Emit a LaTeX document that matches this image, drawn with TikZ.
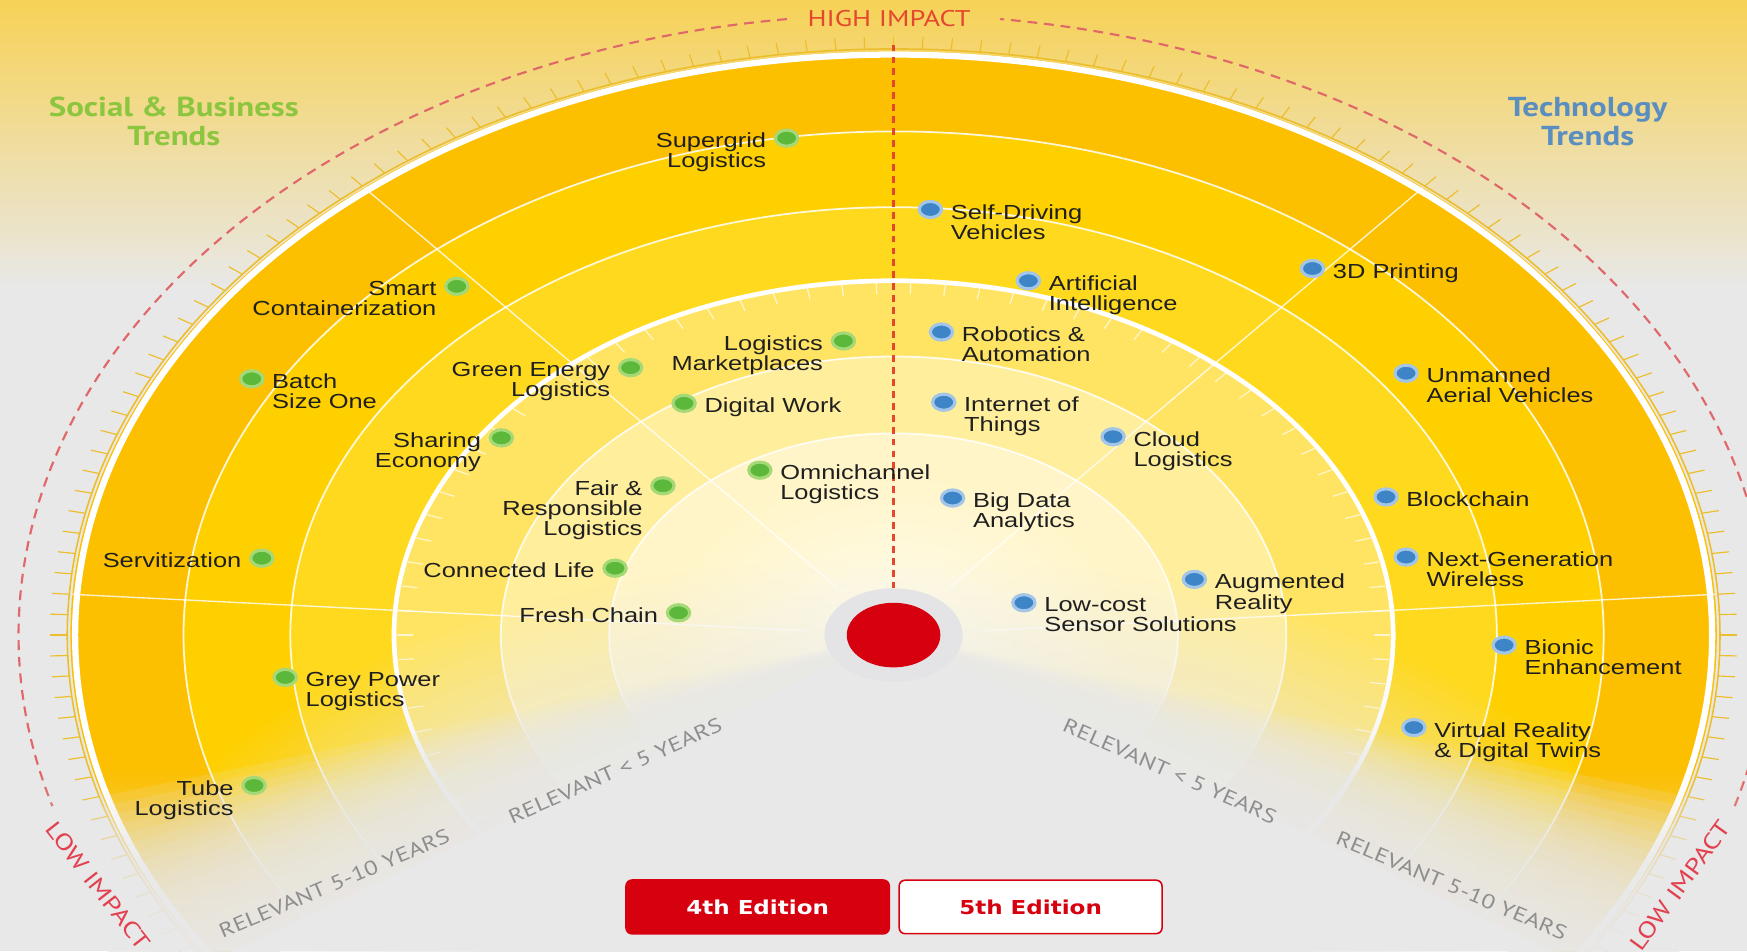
\documentclass[tikz,border=0pt]{standalone}
\usepackage{fontspec}
\setmainfont{Liberation Sans}[FakeStretch=1.25]
\newfontfamily\capfont{PT Sans}[FakeStretch=1.25]
\newfontfamily\headfont{PT Sans}[FakeStretch=1.2]
\newfontfamily\btnfont{DejaVu Sans}[FakeStretch=1.2]
\usetikzlibrary{shapes.geometric,fadings}

\definecolor{bggrey}{HTML}{E8E8E8}
\definecolor{topyel}{HTML}{F7D256}
\definecolor{ringA}{HTML}{FCC000}
\definecolor{ringB}{HTML}{FFD000}
\definecolor{ringC}{HTML}{FFD91E}
\definecolor{ringD}{HTML}{FFE464}
\definecolor{ringE}{HTML}{FFEE9C}
\definecolor{ringF}{HTML}{FFF5C8}
\definecolor{core}{HTML}{FFFCEE}
\definecolor{halo}{HTML}{E4E4E7}
\definecolor{dhlred}{HTML}{D7000F}
\definecolor{impred}{HTML}{E5472E}
\definecolor{lowred}{HTML}{E2404F}
\definecolor{arcred}{HTML}{E0686A}
\definecolor{sbgreen}{HTML}{8CC63F}
\definecolor{techblue}{HTML}{5B8EC0}
\definecolor{dotgreen}{HTML}{5CB83A}
\definecolor{dotgreenrim}{HTML}{A5D977}
\definecolor{dotblue}{HTML}{3E85C8}
\definecolor{dotbluerim}{HTML}{A3C6E8}
\definecolor{relgrey}{HTML}{8E8E8E}
\definecolor{tickyel}{HTML}{EDBE2C}

% grey wash over the lower part: opaque in the middle, gone at the rim
\pgfdeclareradialshading{lowshade}{\pgfpointorigin}{color(0bp)=(white); color(12bp)=(white); color(25bp)=(black); color(50bp)=(black)}
\pgfdeclarefading{lowfade}{\pgfuseshading{lowshade}}

\begin{document}
\begin{tikzpicture}[x=0.02cm, y=-0.02cm,
  gdot/.style={ellipse, fill=dotgreen, draw=dotgreenrim, line width=1.6pt,
    minimum width=0.4cm, minimum height=0.29cm, inner sep=0pt},
  bdot/.style={gdot, fill=dotblue, draw=dotbluerim},
  lbl/.style={inner sep=0pt, text=black!88, font=\fontsize{10.4pt}{10.3pt}\selectfont},
  lblleft/.style={lbl, anchor=north east, align=right},
  lblright/.style={lbl, anchor=north west, align=left},
  relv/.style={text=relgrey, font=\capfont\fontsize{10.3pt}{11pt}\selectfont},
  impact/.style={text=impred, font=\capfont\fontsize{11.6pt}{12pt}\selectfont},
  trendhead/.style={align=center, font=\headfont\bfseries\fontsize{14pt}{14.8pt}\selectfont},
  edition/.style={rounded corners=3pt, minimum width=4.72cm, minimum height=0.96cm,
    line width=1pt, draw=dhlred, font=\btnfont\bfseries\fontsize{9.8pt}{10pt}\selectfont}]

  \useasboundingbox (0,0) rectangle (1568,854);
  \fill[bggrey] (0,0) rectangle (1568,854);
  \shade[top color=topyel, bottom color=bggrey] (0,0) rectangle (1568,260);

  % the radar, drawn round the hub
  \begin{scope}[shift={(802,570)}, xscale=1.41, yscale=-1]
    \foreach \r/\c in {524/ringA, 452/ringB, 384/ringC, 318/ringD, 250/ringE, 181/ringF}
      \fill[\c] (0,0) -- (-34:\r) arc[start angle=-34, end angle=214, radius=\r] -- cycle;
    \begin{scope}
      \clip (0,0) -- (-34:181) arc[start angle=-34, end angle=214, radius=181] -- cycle;
      \shade[inner color=core, outer color=ringF] (0,0) circle[radius=150];
    \end{scope}
    \foreach \r in {452,384,250,181}
      \draw[white, line width=0.9pt, opacity=0.85] (-34:\r) arc[start angle=-34, end angle=214, radius=\r];
    \foreach \a in {4,50,130,176}
      \draw[white, line width=0.7pt, opacity=0.8] (\a:55) -- (\a:524);
    \draw[white, line width=3.2pt] (-34:521) arc[start angle=-34, end angle=214, radius=521];
    \draw[white, line width=2.4pt] (-34:318) arc[start angle=-34, end angle=214, radius=318];
    \foreach \a in {-32,-28,...,212}
      \draw[white, line width=0.6pt, opacity=0.7] (\a:316) -- (\a:306);
    \draw[tickyel, line width=0.8pt] (-34:526) arc[start angle=-34, end angle=214, radius=526];
    \foreach \a in {-34,-32,...,214}
      \draw[tickyel, line width=0.6pt] (\a:526) -- (\a:537);
    \draw[arcred, line width=1.1pt, dash pattern=on 5pt off 3.5pt]
      (-16:557) arc[start angle=-16, end angle=83, radius=557]
      (97:557) arc[start angle=97, end angle=196, radius=557];
    % lower ends fade into the background
    \foreach \a in {0,...,17} {
      \fill[bggrey, opacity=0.13] (0,0) -- (196+\a:575) arc[start angle=196+\a, end angle=216, radius=575] -- cycle;
      \fill[bggrey, opacity=0.13] (0,0) -- (-16-\a:575) arc[start angle=-16-\a, end angle=-36, radius=575] -- cycle;
    }
  \end{scope}
  \fill[bggrey, path fading=lowfade] (802,860) ellipse[x radius=700, y radius=360];
  \fill[bggrey, path fading=north, opacity=0.7] (0,690) rectangle (1568,854);

  \node[ellipse, fill=halo, minimum width=2.48cm, minimum height=1.68cm] (halo) at (802,570) {};
  \node[ellipse, fill=dhlred, minimum width=1.68cm, minimum height=1.16cm] (hub) at (802,570) {};
  \coordinate (axis) at (802,40);
  \draw[impred, line width=1.2pt, dash pattern=on 3.5pt off 2.6pt] (axis) -- (halo.north);

  \node[impact] (hi) at (798,17) {HIGH IMPACT};
  \node[impact, text=lowred, rotate=-52] (lowl) at (88,795) {LOW IMPACT};
  \node[impact, text=lowred, rotate=54] (lowr) at (1508,795) {LOW IMPACT};
  \node[relv, rotate=24] (rl5) at (552,692) {RELEVANT < 5 YEARS};
  \node[relv, rotate=23] (rl10) at (300,793) {RELEVANT 5-10 YEARS};
  \node[relv, rotate=-24] (rr5) at (1050,692) {RELEVANT < 5 YEARS};
  \node[relv, rotate=-23] (rr10) at (1303,795) {RELEVANT 5-10 YEARS};

  \node[trendhead, text=sbgreen] (sb) at (156,109) {Social \& Business\\Trends};
  \node[trendhead, text=techblue] (tech) at (1425,109) {Technology\\Trends};

  % social & business trends
  \foreach \x/\y/\txt [count=\i] in {706/124/{Supergrid\\Logistics},
      410/257/{Smart\\Containerization}, 566/330/{Green Energy\\Logistics},
      757/306/{Logistics\\Marketplaces}, 450/393/{Sharing\\Economy},
      595/436/{Fair \&\\Responsible\\Logistics}, 235/501/{Servitization},
      552/510/{Connected Life}, 609/550/{Fresh Chain}, 228/705/{Tube\\Logistics}} {
    \node[gdot] (sl\i) at (\x,\y) {};
    \node[lblleft] (slt\i) at (\x-18,\y-5) {\txt};
  }
  \foreach \x/\y/\txt [count=\i] in {226/340/{Batch\\Size One}, 614/362/{Digital Work},
      682/422/{Omnichannel\\Logistics}, 256/608/{Grey Power\\Logistics}} {
    \node[gdot] (sr\i) at (\x,\y) {};
    \node[lblright] (srt\i) at (\x+18,\y-5) {\txt};
  }

  % technology trends
  \foreach \x/\y/\txt [count=\i] in {835/188/{Self-Driving\\Vehicles},
      923/252/{Artificial\\Intelligence}, 1178/241/{3D Printing},
      845/298/{Robotics \&\\Automation}, 1262/335/{Unmanned\\Aerial Vehicles},
      847/361/{Internet of\\Things}, 999/392/{Cloud\\Logistics},
      855/447/{Big Data\\Analytics}, 1244/446/{Blockchain},
      1262/500/{Next-Generation\\Wireless}, 1072/520/{Augmented\\Reality},
      919/541/{Low-cost\\Sensor Solutions}, 1350/579/{Bionic\\Enhancement},
      1269/653/{Virtual Reality\\\& Digital Twins}} {
    \node[bdot] (t\i) at (\x,\y) {};
    \node[lblright] (tt\i) at (\x+18,\y-5) {\txt};
  }

  \node[edition, fill=dhlred, text=white] (ed4) at (680,814) {4th Edition};
  \node[edition, fill=white, text=dhlred, line width=0.8pt] (ed5) at (925,814) {5th Edition};
\end{tikzpicture}
\end{document}
